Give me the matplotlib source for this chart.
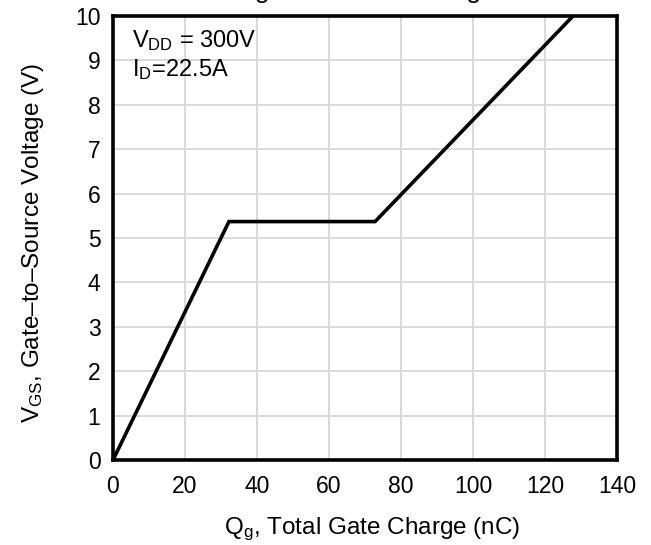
import matplotlib
matplotlib.use("Agg")
import matplotlib.pyplot as plt

plt.rcParams['font.family'] = ['Liberation Sans', 'DejaVu Sans']
plt.rcParams['mathtext.fontset'] = 'custom'
plt.rcParams['mathtext.rm'] = 'Liberation Sans'
plt.rcParams['mathtext.it'] = 'Liberation Sans'

# gate charge curve (nC, V)
qg = [0, 32.2, 72.8, 127.8]
vgs = [0, 5.37, 5.37, 10.0]

x_ticks = [0, 20, 40, 60, 80, 100, 120, 140]
y_ticks = [0, 1, 2, 3, 4, 5, 6, 7, 8, 9, 10]

fig = plt.figure(figsize=(6.51, 5.45), dpi=100)
ax = fig.add_axes([113/651, 1 - 460/545, (617 - 113)/651, (460 - 16)/545])

ax.plot(qg, vgs, color='black', lw=2.6, solid_joinstyle='miter', zorder=3)

ax.set_xlim(0, 140)
ax.set_ylim(0, 10)
ax.set_xticks(x_ticks)
ax.set_yticks(y_ticks)
ax.grid(True, color='#d9d9d9', lw=1.4)
ax.set_axisbelow(True)
ax.tick_params(length=0, labelsize=16.5)
ax.tick_params(axis='x', pad=11)
ax.tick_params(axis='y', pad=9)
for s in ax.spines.values():
    s.set_linewidth(2.6)

ax.set_xlabel(r'Q$_\mathregular{g}$, Total Gate Charge (nC)', fontsize=17.5, va='baseline')
ax.xaxis.set_label_coords(0.515, -0.167)
ax.set_ylabel(r'V$_\mathregular{GS}$, Gate–to–Source Voltage (V)', fontsize=17.5, va='center')
ax.yaxis.set_label_coords(-0.159, 0.49)

ax.text(0.038, 0.930, r'V$_\mathregular{DD}$ = 300V', transform=ax.transAxes,
        fontsize=17, va='baseline', ha='left')
ax.text(0.038, 0.865, r'I$_\mathregular{D}$=22.5A', transform=ax.transAxes,
        fontsize=17, va='baseline', ha='left')

# title sits mostly above the page edge in the reference
fig.text(0.56, 1.003, 'Figure 9. Gate Charge', fontsize=19, ha='center', va='baseline')

fig.savefig('out.png', dpi=100)
